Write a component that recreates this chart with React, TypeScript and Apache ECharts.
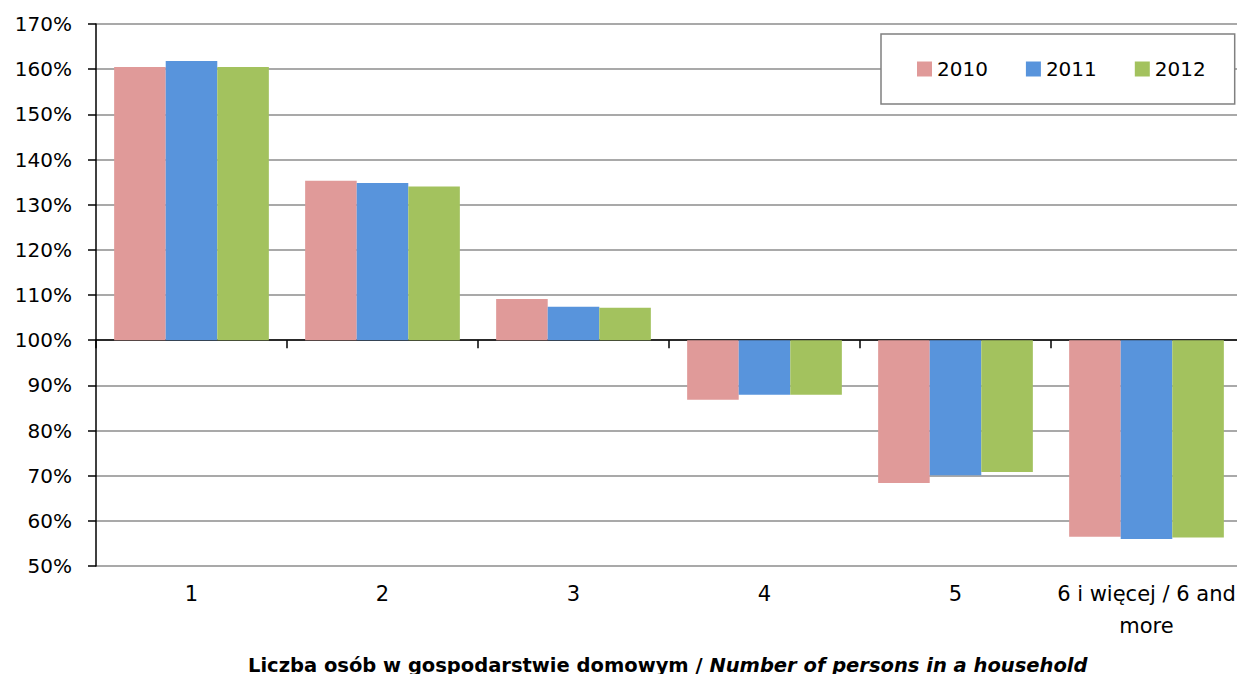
import React, { useEffect, useRef } from "react";
import * as echarts from "echarts";

const categories = ["1", "2", "3", "4", "5", "6 i więcej / 6 and\nmore"];
const seriesNames = ["2010", "2011", "2012"];
const values2010 = [160.5, 135.3, 109.1, 86.8, 68.4, 56.5];
const values2011 = [161.8, 134.8, 107.4, 87.9, 70.1, 56.0];
const values2012 = [160.5, 134.0, 107.2, 87.9, 70.8, 56.3];
const colors = ["#E09A99", "#5894DC", "#A3C25E"];
const BASE = 100;
const FONT = "DejaVu Sans";

export default function App() {
  const ref = useRef<HTMLDivElement>(null);
  useEffect(() => {
    if (!ref.current) return;
    const chart = echarts.init(ref.current, undefined, { renderer: "svg" });
    const all = [values2010, values2011, values2012];
    chart.setOption({
      animation: false,
      textStyle: { fontFamily: FONT },
      grid: { left: 96, right: 3, top: 24, bottom: 116, containLabel: false },
      title: {
        left: 248,
        top: 653,
        padding: 0,
        text: "{a|Liczba osób w gospodarstwie domowym / }{b|Number of persons in a household}",
        textStyle: {
          rich: {
            a: { fontFamily: FONT, fontSize: 19.5, fontWeight: "bold", color: "#000", lineHeight: 24 },
            b: { fontFamily: FONT, fontSize: 19.5, fontWeight: "bold", fontStyle: "italic", color: "#000", lineHeight: 24 },
          },
        },
      },
      legend: {
        data: seriesNames,
        left: 881,
        top: 34,
        width: 295,
        padding: [25, 29, 25, 36],
        itemWidth: 15,
        itemHeight: 15,
        itemGap: 38,
        backgroundColor: "#fff",
        borderColor: "#808080",
        borderWidth: 1.5,
        icon: "rect",
        textStyle: { fontFamily: FONT, fontSize: 20, color: "#000" },
      },
      xAxis: [
        {
          type: "category",
          data: categories,
          axisLine: { onZero: true, lineStyle: { color: "#000", width: 1.5 } },
          axisTick: { show: true, length: 8, lineStyle: { color: "#000", width: 1.5 } },
          axisLabel: { show: false },
        },
        {
          type: "category",
          data: categories,
          position: "bottom",
          axisLine: { show: false, onZero: false },
          axisTick: { show: false },
          axisLabel: {
            show: true,
            interval: 0,
            margin: 12,
            color: "#000",
            fontSize: 21,
            fontFamily: FONT,
            lineHeight: 32,
          },
        },
      ],
      yAxis: {
        type: "value",
        min: -50,
        max: 70,
        interval: 10,
        axisLine: { show: true, lineStyle: { color: "#000", width: 1.5 } },
        axisTick: { show: true, length: 8, lineStyle: { color: "#000", width: 1.5 } },
        splitLine: { show: true, lineStyle: { color: "#8c8c8c", width: 1.5 } },
        axisLabel: {
          margin: 24,
          color: "#000",
          fontSize: 20,
          fontFamily: FONT,
          formatter: (v: number) => `${Math.round(v + BASE)}%`,
        },
      },
      series: seriesNames.map((name, i) => ({
        name,
        type: "bar",
        xAxisIndex: 0,
        barGap: "0%",
        barCategoryGap: "19%",
        itemStyle: { color: colors[i] },
        data: all[i].map((v) => +(v - BASE).toFixed(2)),
      })),
    });
    return () => chart.dispose();
  }, []);
  return <div ref={ref} style={{ width: 1245, height: 682, margin: -8 }} />;
}
